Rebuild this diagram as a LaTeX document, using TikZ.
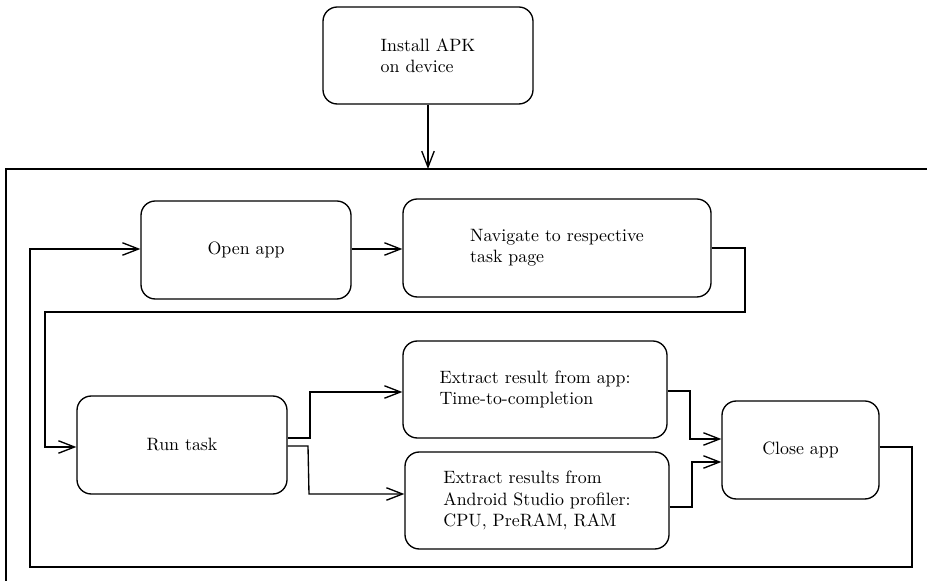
\documentclass[tikz,border=0pt]{standalone}
\usetikzlibrary{arrows.meta}
\begin{document}
\begin{tikzpicture}[x=0.56pt,y=-0.56pt,
  line width=0.75pt,
  proc/.style={draw, rounded corners=8pt, inner sep=0pt, align=left, font=\normalsize},
  arr/.style={-{Straight Barb[length=9pt,width=7pt,line width=0.75pt]}},
  link/.style={line width=0.75pt}]
\useasboundingbox (0,0) rectangle (927,581);
% outer frame
\draw[link] (927,169) -- (6,169) -- (6,585);
% nodes
\node[proc, minimum width=210*0.56pt, minimum height=97*0.56pt] (apk) at (428,55.5) {Install APK\\on device};
\node[proc, minimum width=210*0.56pt, minimum height=98*0.56pt] (open) at (246,250) {Open app};
\node[proc, minimum width=308*0.56pt, minimum height=98*0.56pt] (nav) at (557,248) {Navigate to respective\\task page};
\node[proc, minimum width=210*0.56pt, minimum height=98*0.56pt] (run) at (182,445) {Run task};
\node[proc, minimum width=264*0.56pt, minimum height=97*0.56pt] (ex1) at (535,389.5) {Extract result from app:\\Time-to-completion};
\node[proc, minimum width=264*0.56pt, minimum height=97*0.56pt] (ex2) at (537,500.5) {Extract results from\\Android Studio profiler:\\CPU, PreRAM, RAM};
\node[proc, minimum width=157*0.56pt, minimum height=98*0.56pt] (close) at (800.5,450) {Close app};
\coordinate (frametop) at (428,169);
% connectors
\draw[arr] (apk.south) -- (frametop);
\draw[arr] (open.east |- 0,249) -- (nav.west |- 0,249);
\draw[arr] (nav.east) -- (745,248) -- (745,312) -- (45,312) |- (run.west |- 0,447);
\draw[arr] (run.east |- 0,438) -- (310,438) |- (ex1.west |- 0,392);
\draw[arr] (run.east |- 0,446) -- (308,446) -- (309,494) -- (ex2.west |- 0,494);
\draw[arr] (ex1.east |- 0,391) -- (690,391) |- (close.west |- 0,439);
\draw[arr] (ex2.east |- 0,507) -- (692,507) |- (close.west |- 0,462);
\draw[arr] (close.east |- 0,447) -- (912,447) -- (912,567) -- (30,567) |- (open.west |- 0,249);
\end{tikzpicture}
\end{document}
